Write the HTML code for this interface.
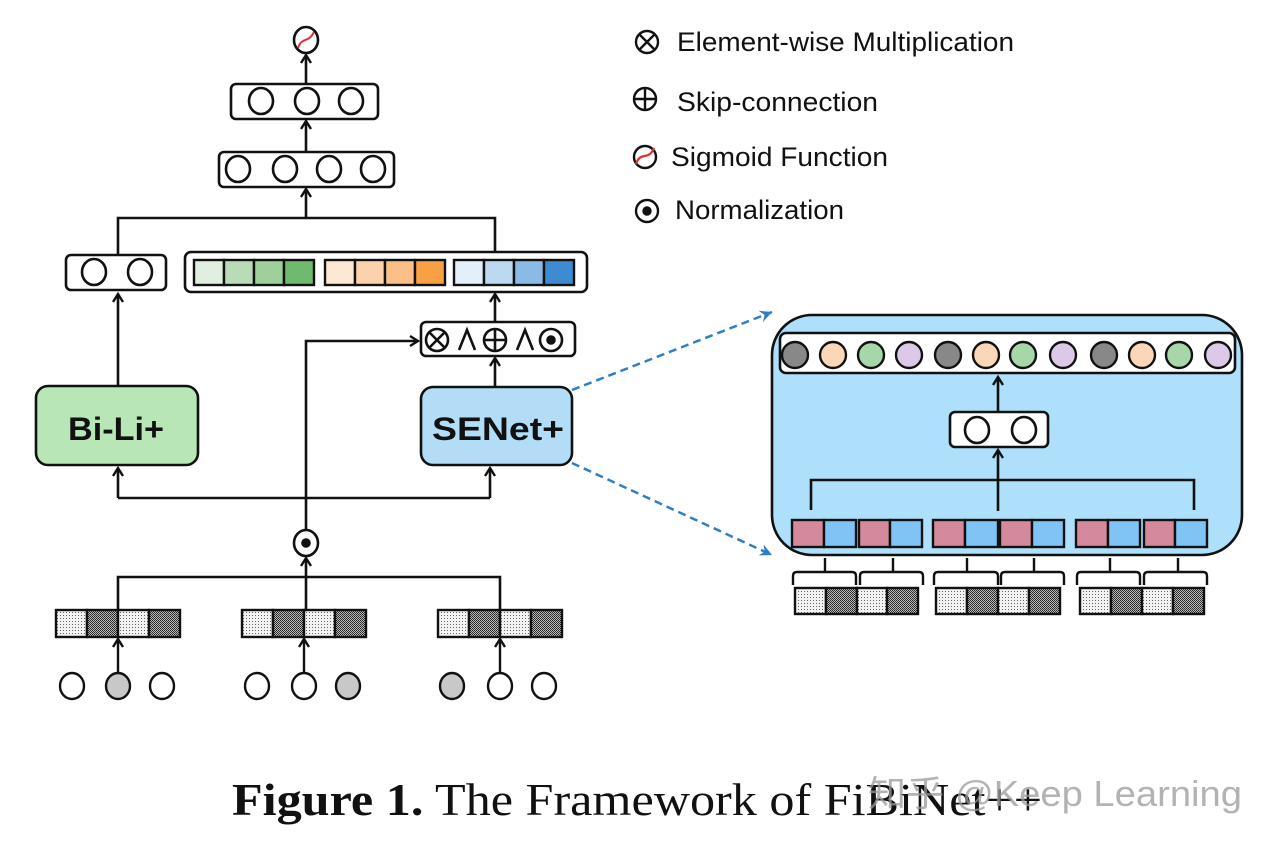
<!DOCTYPE html>
<html><head><meta charset="utf-8"><style>
html,body{margin:0;padding:0;background:#fff;}
svg{display:block;}
</style></head><body>
<svg width="1274" height="848" viewBox="0 0 1274 848" xmlns="http://www.w3.org/2000/svg">
<defs>
<pattern id="lt" width="3" height="3" patternUnits="userSpaceOnUse"><rect width="3" height="3" fill="#f2f2f2"/><rect width="1" height="1" fill="#666"/></pattern>
<pattern id="dk" width="2" height="2" patternUnits="userSpaceOnUse"><rect width="2" height="2" fill="#bbb"/><rect width="1" height="1" fill="#222"/><rect x="1" y="1" width="1" height="1" fill="#333"/></pattern>
<marker id="ar" markerWidth="12" markerHeight="12" refX="9" refY="6" orient="auto" markerUnits="userSpaceOnUse"><path d="M1,1 L9,6 L1,11" fill="none" stroke="#111" stroke-width="2.4"/></marker>
<marker id="ab" markerWidth="14" markerHeight="12" refX="12" refY="6" orient="auto" markerUnits="userSpaceOnUse"><path d="M0,0 L12,6 L0,12 L4,6 Z" fill="#2f7fc4"/></marker>
</defs>
<g fill="none" stroke="#111" stroke-width="2.6">
<ellipse cx="306" cy="40" rx="12" ry="13" fill="#fff"/>
<path d="M298,48 C302,36 308,44 314,32" stroke="#d33" stroke-width="2"/>
<line x1="306" y1="84" x2="306" y2="55" marker-end="url(#ar)"/>
<rect x="231" y="84" width="147" height="35" rx="5" fill="#fff"/>
<ellipse cx="261" cy="101" rx="12" ry="13"/><ellipse cx="307" cy="101" rx="12" ry="13"/><ellipse cx="351" cy="101" rx="12" ry="13"/>
<line x1="306" y1="152" x2="306" y2="121" marker-end="url(#ar)"/>
<rect x="219" y="152" width="175" height="35" rx="5" fill="#fff"/>
<ellipse cx="238" cy="169" rx="12" ry="13"/><ellipse cx="285" cy="169" rx="12" ry="13"/><ellipse cx="329" cy="169" rx="12" ry="13"/><ellipse cx="373" cy="169" rx="12" ry="13"/>
<line x1="306" y1="218" x2="306" y2="189" marker-end="url(#ar)"/>
<polyline points="118,255 118,218 495,218 495,252"/>
<rect x="66" y="255" width="100" height="35" rx="5" fill="#fff"/>
<ellipse cx="94" cy="272" rx="12" ry="13"/><ellipse cx="140" cy="272" rx="12" ry="13"/>
<rect x="185" y="252" width="402" height="40" rx="6" fill="#fff"/>
</g>
<g stroke="#111" stroke-width="2.4">
<rect x="194" y="260" width="30" height="25" fill="#e0efdf"/><rect x="224" y="260" width="30" height="25" fill="#b9dbb8"/><rect x="254" y="260" width="30" height="25" fill="#9fd09c"/><rect x="284" y="260" width="30" height="25" fill="#6fba6f"/>
<rect x="325" y="260" width="30" height="25" fill="#fde8d4"/><rect x="355" y="260" width="30" height="25" fill="#fcd2ac"/><rect x="385" y="260" width="30" height="25" fill="#fbbf88"/><rect x="415" y="260" width="30" height="25" fill="#f7a144"/>
<rect x="454" y="260" width="30" height="25" fill="#e3f0fb"/><rect x="484" y="260" width="30" height="25" fill="#bcd9f1"/><rect x="514" y="260" width="30" height="25" fill="#8abbe6"/><rect x="544" y="260" width="30" height="25" fill="#3f8bd1"/>
</g>
<g fill="none" stroke="#111" stroke-width="2.6">
<line x1="495" y1="322" x2="495" y2="294" marker-end="url(#ar)"/>
<rect x="421" y="322" width="154" height="34" rx="5" fill="#fff"/>
<circle cx="437" cy="340" r="11"/><line x1="429" y1="332" x2="445" y2="348"/><line x1="445" y1="332" x2="429" y2="348"/>
<polyline points="459,350 467,330 475,350"/>
<circle cx="495" cy="340" r="11"/><line x1="484" y1="340" x2="506" y2="340"/><line x1="495" y1="329" x2="495" y2="351"/>
<polyline points="517,350 525,330 533,350"/>
<circle cx="551" cy="340" r="11"/><circle cx="551" cy="340" r="3.5" fill="#111"/>
<polyline points="306,530 306,341 418,341" marker-end="url(#ar)"/>
<line x1="495" y1="387" x2="495" y2="358" marker-end="url(#ar)"/>
<line x1="118" y1="386" x2="118" y2="294" marker-end="url(#ar)"/>
<rect x="36" y="386" width="162" height="79" rx="12" fill="#b8e6b6"/>
<rect x="421" y="387" width="151" height="78" rx="12" fill="#b3dcf7"/>
<line x1="118" y1="498" x2="118" y2="468" marker-end="url(#ar)"/>
<line x1="490" y1="498" x2="490" y2="468" marker-end="url(#ar)"/>
<line x1="118" y1="498" x2="490" y2="498"/>
<ellipse cx="306" cy="543" rx="12" ry="13" fill="#fff"/><circle cx="306" cy="543" r="3.5" fill="#111"/>
<line x1="306" y1="610" x2="306" y2="558" marker-end="url(#ar)"/>
<polyline points="118,610 118,577 500,577 500,610"/>
</g>
<text x="68" y="440" font-family="Liberation Sans, sans-serif" font-weight="bold" font-size="32" fill="#111" textLength="96" lengthAdjust="spacingAndGlyphs">Bi-Li+</text>
<text x="432" y="440" font-family="Liberation Sans, sans-serif" font-weight="bold" font-size="32" fill="#111" textLength="132" lengthAdjust="spacingAndGlyphs">SENet+</text>
<g stroke="#111" stroke-width="2.4">
<rect x="56" y="610" width="31" height="27" fill="url(#lt)"/><rect x="87" y="610" width="31" height="27" fill="url(#dk)"/><rect x="118" y="610" width="31" height="27" fill="url(#lt)"/><rect x="149" y="610" width="31" height="27" fill="url(#dk)"/>
<rect x="242" y="610" width="31" height="27" fill="url(#lt)"/><rect x="273" y="610" width="31" height="27" fill="url(#dk)"/><rect x="304" y="610" width="31" height="27" fill="url(#lt)"/><rect x="335" y="610" width="31" height="27" fill="url(#dk)"/>
<rect x="438" y="610" width="31" height="27" fill="url(#lt)"/><rect x="469" y="610" width="31" height="27" fill="url(#dk)"/><rect x="500" y="610" width="31" height="27" fill="url(#lt)"/><rect x="531" y="610" width="31" height="27" fill="url(#dk)"/>
</g>
<g fill="#fff" stroke="#111" stroke-width="2.4">
<line x1="118" y1="674" x2="118" y2="639" marker-end="url(#ar)"/>
<line x1="304" y1="674" x2="304" y2="639" marker-end="url(#ar)"/>
<line x1="500" y1="674" x2="500" y2="639" marker-end="url(#ar)"/>
<ellipse cx="72" cy="686" rx="12" ry="13"/><ellipse cx="118" cy="686" rx="12" ry="13" fill="#c8c8c8"/><ellipse cx="162" cy="686" rx="12" ry="13"/>
<ellipse cx="257" cy="686" rx="12" ry="13"/><ellipse cx="304" cy="686" rx="12" ry="13"/><ellipse cx="348" cy="686" rx="12" ry="13" fill="#c8c8c8"/>
<ellipse cx="452" cy="686" rx="12" ry="13" fill="#c8c8c8"/><ellipse cx="500" cy="686" rx="12" ry="13"/><ellipse cx="544" cy="686" rx="12" ry="13"/>
</g>
<line x1="572" y1="390" x2="772" y2="312" stroke="#2f7fc4" stroke-width="2.5" stroke-dasharray="8,5" marker-end="url(#ab)"/>
<line x1="572" y1="463" x2="772" y2="555" stroke="#2f7fc4" stroke-width="2.5" stroke-dasharray="8,5" marker-end="url(#ab)"/>
<g stroke="#111" stroke-width="2.6" fill="none">
<rect x="772" y="315" width="470" height="240" rx="40" fill="#aee0fb"/>
<rect x="780" y="333" width="455" height="40" rx="6" fill="#fff"/>
</g>
<g stroke="#111" stroke-width="2.4">
<circle cx="795" cy="355" r="13" fill="#888"/><circle cx="833" cy="355" r="13" fill="#fad7b8"/><circle cx="871" cy="355" r="13" fill="#a7d7a8"/><circle cx="909" cy="355" r="13" fill="#dcc9e8"/>
<circle cx="948" cy="355" r="13" fill="#888"/><circle cx="986" cy="355" r="13" fill="#fad7b8"/><circle cx="1023" cy="355" r="13" fill="#a7d7a8"/><circle cx="1063" cy="355" r="13" fill="#dcc9e8"/>
<circle cx="1104" cy="355" r="13" fill="#888"/><circle cx="1142" cy="355" r="13" fill="#fad7b8"/><circle cx="1179" cy="355" r="13" fill="#a7d7a8"/><circle cx="1218" cy="355" r="13" fill="#dcc9e8"/>
</g>
<g stroke="#111" stroke-width="2.6" fill="none">
<line x1="998" y1="412" x2="998" y2="377" marker-end="url(#ar)"/>
<rect x="950" y="412" width="98" height="35" rx="5" fill="#fff"/>
<ellipse cx="977" cy="430" rx="12" ry="13"/><ellipse cx="1024" cy="430" rx="12" ry="13"/>
<line x1="998" y1="511" x2="998" y2="450" marker-end="url(#ar)"/>
<polyline points="811,510 811,480 1194,480 1194,510"/>
</g>
<g stroke="#111" stroke-width="2.4">
<rect x="792" y="520" width="32" height="27" fill="#d4899c"/><rect x="824" y="520" width="32" height="27" fill="#7fc4f5"/><rect x="859" y="520" width="31" height="27" fill="#d4899c"/><rect x="890" y="520" width="32" height="27" fill="#7fc4f5"/>
<rect x="933" y="520" width="32" height="27" fill="#d4899c"/><rect x="965" y="520" width="33" height="27" fill="#7fc4f5"/><rect x="1000" y="520" width="32" height="27" fill="#d4899c"/><rect x="1032" y="520" width="32" height="27" fill="#7fc4f5"/>
<rect x="1076" y="520" width="32" height="27" fill="#d4899c"/><rect x="1108" y="520" width="32" height="27" fill="#7fc4f5"/><rect x="1144" y="520" width="31" height="27" fill="#d4899c"/><rect x="1175" y="520" width="32" height="27" fill="#7fc4f5"/>
</g>
<g stroke="#111" stroke-width="2.4" fill="none">
<path d="M793,585 V576 Q793,572 797,572 H852 Q856,572 856,576 V585 M825,572 V558"/>
<path d="M860,585 V576 Q860,572 864,572 H919 Q923,572 923,576 V585 M893,572 V558"/>
<path d="M934,585 V576 Q934,572 938,572 H994 Q998,572 998,576 V585 M967,572 V558"/>
<path d="M1001,585 V576 Q1001,572 1005,572 H1060 Q1064,572 1064,576 V585 M1034,572 V558"/>
<path d="M1077,585 V576 Q1077,572 1081,572 H1136 Q1140,572 1140,576 V585 M1110,572 V558"/>
<path d="M1144,585 V576 Q1144,572 1148,572 H1203 Q1207,572 1207,576 V585 M1178,572 V558"/>
</g>
<g stroke="#111" stroke-width="2.4">
<rect x="795" y="588" width="31" height="26" fill="url(#lt)"/><rect x="826" y="588" width="31" height="26" fill="url(#dk)"/><rect x="857" y="588" width="30" height="26" fill="url(#lt)"/><rect x="887" y="588" width="31" height="26" fill="url(#dk)"/>
<rect x="936" y="588" width="31" height="26" fill="url(#lt)"/><rect x="967" y="588" width="31" height="26" fill="url(#dk)"/><rect x="998" y="588" width="31" height="26" fill="url(#lt)"/><rect x="1029" y="588" width="31" height="26" fill="url(#dk)"/>
<rect x="1080" y="588" width="31" height="26" fill="url(#lt)"/><rect x="1111" y="588" width="31" height="26" fill="url(#dk)"/><rect x="1142" y="588" width="31" height="26" fill="url(#lt)"/><rect x="1173" y="588" width="31" height="26" fill="url(#dk)"/>
</g>
<g fill="none" stroke="#111" stroke-width="2.4">
<circle cx="647" cy="42" r="11"/><line x1="639" y1="34" x2="655" y2="50"/><line x1="655" y1="34" x2="639" y2="50"/>
<circle cx="645" cy="99" r="11"/><line x1="634" y1="99" x2="656" y2="99"/><line x1="645" y1="88" x2="645" y2="110"/>
<circle cx="645" cy="157" r="11"/>
<circle cx="647" cy="211" r="11"/><circle cx="647" cy="211" r="3.5" fill="#111"/>
</g>
<path d="M636,164 C641,150 648,162 654,148" stroke="#d33" stroke-width="2.2" fill="none"/>
<g font-family="Liberation Sans, sans-serif" font-size="27" fill="#111">
<text x="677" y="51" textLength="337" lengthAdjust="spacingAndGlyphs">Element-wise Multiplication</text>
<text x="677" y="111" textLength="201" lengthAdjust="spacingAndGlyphs">Skip-connection</text>
<text x="671" y="166" textLength="217" lengthAdjust="spacingAndGlyphs">Sigmoid Function</text>
<text x="675" y="219" textLength="169" lengthAdjust="spacingAndGlyphs">Normalization</text>
</g>
<text x="232" y="815" font-family="Liberation Serif, serif" font-size="46" fill="#111" textLength="810" lengthAdjust="spacingAndGlyphs"><tspan font-weight="bold">Figure 1.</tspan> The Framework of FiBiNet++</text>
<text x="868" y="806" font-family="Liberation Sans, 'Noto Sans CJK SC', sans-serif" font-size="36" fill="#999" fill-opacity="0.75" textLength="374" lengthAdjust="spacingAndGlyphs">知乎 @Keep Learning</text>
</svg>
</body></html>
